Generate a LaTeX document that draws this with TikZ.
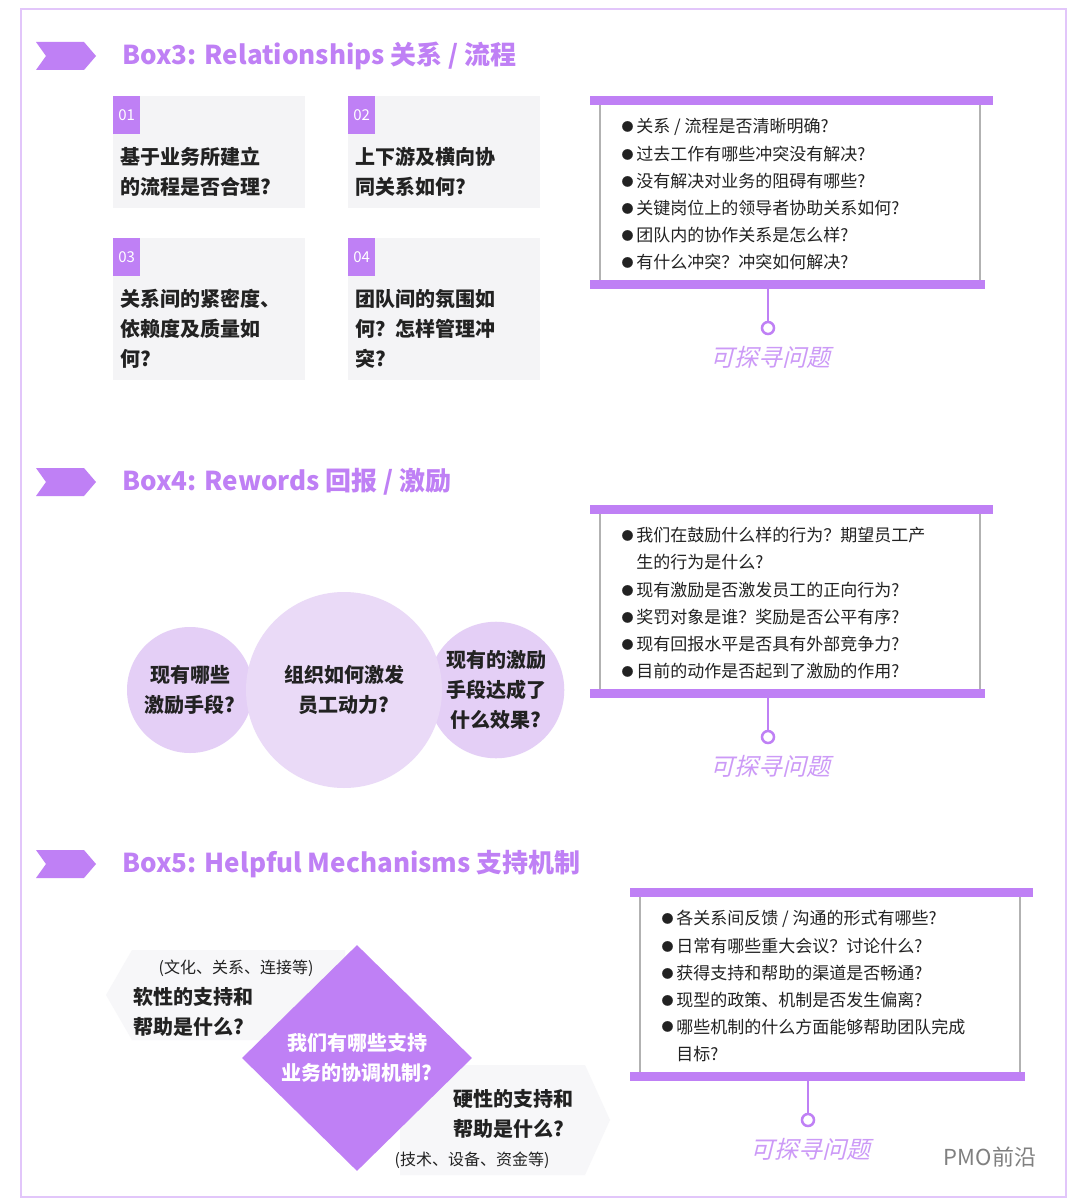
\documentclass[tikz,border=0pt]{standalone}
\usepackage{fontspec}
\setmainfont{Noto Sans CJK SC}
\newfontfamily\slantcjk[FakeSlant=0.25]{Noto Sans CJK SC}
\usetikzlibrary{calc, positioning, shapes.geometric}
\definecolor{vio}{HTML}{BF80F5}
\definecolor{lilac}{HTML}{E6D3F6}
\definecolor{card}{HTML}{F4F4F6}
\definecolor{ink}{HTML}{222222}
\newcommand{\fs}[1]{\fontsize{#1}{#1}\selectfont}
\newcommand{\dotb}{\raisebox{0.15ex}{\fs{12}●}\,}
\tikzset{title/.style = {anchor=west, text=vio, font=\fs{26}\bfseries}}
\tikzset{cardbox/.style = {fill=card, draw=none}}
\tikzset{tag/.style = {fill=vio, text=white, font=\fs{15}, minimum width=27, minimum height=38, inner sep=0}}
\tikzset{cardtxt/.style = {anchor=north west, align=left, text=ink, font=\fs{20}\bfseries\linespread{1.5}\selectfont}}
\tikzset{bar/.style = {fill=vio, draw=none}}
\tikzset{item/.style = {anchor=west, text=ink, font=\fontsize{17}{27}\selectfont}}
\tikzset{pin/.style = {draw=vio, line width=2.5, fill=white, circle, inner sep=0, minimum size=12}}
\tikzset{ask/.style = {text=vio!80, font=\fs{24}\slantcjk}}
\tikzset{bubble/.style = {circle, fill=lilac, text=ink, align=center, font=\fs{20}\bfseries\linespread{1.5}\selectfont}}
\newcommand{\chev}[1]{\fill[vio] ($(#1)+(-83,-14)$) -- ++(48,0) -- ++(12,14) -- ++(-12,14) -- ++(-48,0) -- ++(10,-14) -- cycle;}
\begin{document}
\begin{tikzpicture}[x=1pt, y=-1pt]
  \useasboundingbox (0,0) rectangle (1080,1204);
  \fill[white] (0,0) rectangle (1080,1204);
  \draw[vio!45, line width=2] (21,9) rectangle (1066,1197);

  % Box3
  \node[title] (h3) at (119,56) {Box3: Relationships 关系 / 流程};
  \chev{h3.west}
  \foreach \n/\x/\y/\h/\t in {01/113/96/112/{基于业务所建立\\的流程是否合理?},
    02/348/96/112/{上下游及横向协\\同关系如何?},
    03/113/238/142/{关系间的紧密度、\\依赖度及质量如\\何?},
    04/348/238/142/{团队间的氛围如\\何？怎样管理冲\\突?}}
  {
    \fill[cardbox] (\x,\y) rectangle ++(192,\h);
    \node[tag, anchor=north west] (t\n) at (\x,\y) {\n};
    \node[cardtxt] (c\n) at (\x+4,\y+48) {\t};
  }

  % scrolls
  \foreach \s/\x/\y in {A/590/96, B/590/505, C/630/888}
  {
    \draw[gray!60, line width=1.2] (\x+10,\y+8) -- (\x+10,\y+184) (\x+390,\y+8) -- (\x+390,\y+184);
    \fill[bar] (\x,\y) rectangle ++(403,9);
    \fill[bar] (\x,\y+184) rectangle ++(395,9);
    \coordinate (stem\s) at (\x+178,\y+193);
    \node[pin] (pin\s) at (\x+178,\y+232) {};
    \draw[vio, line width=2.5] (stem\s) -- (pin\s);
    \node[ask] (ask\s) at (\x+180,\y+261) {可探寻问题};
  }
  \foreach \t [count=\i from 0] in {关系 / 流程是否清晰明确?, 过去工作有哪些冲突没有解决?,
    没有解决对业务的阻碍有哪些?, 关键岗位上的领导者协助关系如何?,
    团队内的协作关系是怎么样?, 有什么冲突？冲突如何解决?}
    \node[item] (a\i) at (618,127+27*\i) {\dotb\t};
  \node[item, align=left] (b0) at (618,549) {\dotb 我们在鼓励什么样的行为？期望员工产\\\phantom{\dotb}生的行为是什么?};
  \foreach \t [count=\i from 1] in {现有激励是否激发员工的正向行为?,
    奖罚对象是谁？奖励是否公平有序?, 现有回报水平是否具有外部竞争力?,
    目前的动作是否起到了激励的作用?}
    \node[item] (b\i) at (618,563+27*\i) {\dotb\t};
  \foreach \t [count=\i from 0] in {各关系间反馈 / 沟通的形式有哪些?,
    日常有哪些重大会议？讨论什么?, 获得支持和帮助的渠道是否畅通?,
    现型的政策、机制是否发生偏离?}
    \node[item] (c\i) at (658,919+27*\i) {\dotb\t};
  \node[item, align=left] (c4) at (658,1040) {\dotb 哪些机制的什么方面能够帮助团队完成\\\phantom{\dotb}目标?};

  % Box4
  \node[title] (h4) at (119,482) {Box4: Rewords 回报 / 激励};
  \chev{h4.west}
  \node[bubble, minimum size=126, fill=lilac!95!vio] (q1) at (190,690) {现有哪些\\激励手段?};
  \node[bubble, minimum size=130, fill=lilac!95!vio] (q3) at (496,690) {现有的激励\\手段达成了\\什么效果?};
  \node[bubble, minimum size=196, fill=lilac!85] (q2) at (344,690) {组织如何激发\\员工动力?};

  % Box5
  \node[title] (h5) at (119,864) {Box5: Helpful Mechanisms 支持机制};
  \chev{h5.west}
  \fill[card!70] (106,995) -- (132,950) -- (345,950) -- (345,1040) -- (132,1040) -- cycle;
  \fill[card!70] (400,1065) -- (585,1065) -- (610,1120) -- (585,1175) -- (400,1175) -- cycle;
  \node[diamond, fill=vio, minimum width=230, minimum height=226, inner sep=0,
        text=white, align=center, font=\fs{20}\bfseries\linespread{1.5}\selectfont] (dm) at (357,1058) {我们有哪些支持\\业务的协调机制?};
  \node[text=ink, font=\fs{16}] (s0) at (236,968) {(文化、关系、连接等)};
  \node[cardtxt] (s1) at (130,984) {软性的支持和\\帮助是什么?};
  \node[cardtxt] (h1) at (450,1086) {硬性的支持和\\帮助是什么?};
  \node[text=ink, font=\fs{16}] (h0) at (472,1160) {(技术、设备、资金等)};
  \node[text=gray, font=\fs{22}] (wm) at (990,1157) {PMO前沿};
\end{tikzpicture}
\end{document}
